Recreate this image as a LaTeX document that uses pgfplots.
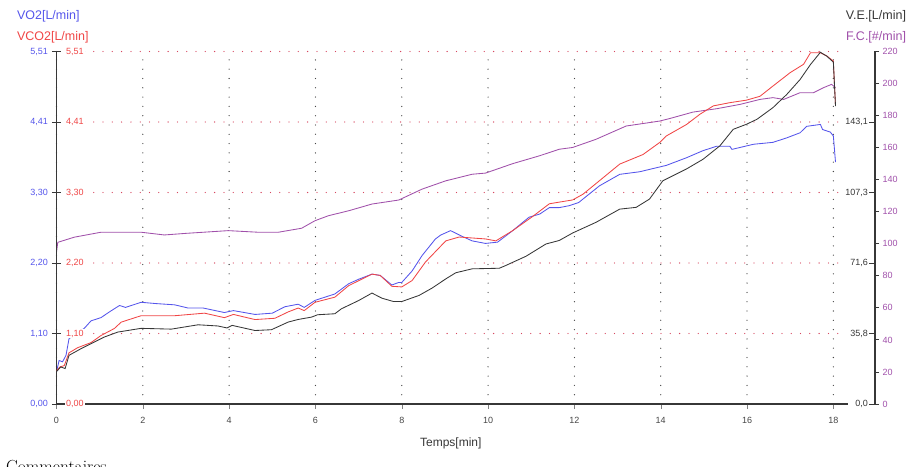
\documentclass[border=0pt]{standalone}
\usepackage{fontspec}
\setsansfont{Liberation Sans}
\usepackage{pgfplots}
\pgfplotsset{compat=1.18}

\definecolor{vo2}{RGB}{85,85,235}
\definecolor{vco2}{RGB}{240,70,70}
\definecolor{ve}{RGB}{55,55,55}
\definecolor{fc}{RGB}{160,80,170}
\definecolor{gridred}{RGB}{215,70,95}
\definecolor{gridblk}{RGB}{70,70,70}

\pgfplotsset{
  base/.style={
    scale only axis, width=788.5pt, height=352.5pt,
    at={(0pt,0pt)}, anchor=south west,
    xmin=0, xmax=18.27, ymin=0,
  },
  tickfont/.style={font=\sffamily\fontsize{9}{10}\selectfont},
  /pgf/number format/assume math mode=true,
}

\begin{document}
\begin{tikzpicture}
% VO2 axis with grid, time axis
\begin{axis}[base, ymax=5.51,
  axis x line*=bottom, axis y line*=left,
  axis line style={draw=ve, line width=1.1pt},
  xtick={0,2,...,18}, xtick align=outside, major tick length=5pt,
  xticklabel style={tickfont, text=gridblk, yshift=-5pt},
  xmajorgrids, ymajorgrids,
  x grid style={draw=gridblk, line width=1.3pt, line cap=round, dash pattern=on 0pt off 9.3pt},
  y grid style={draw=gridred, line width=1.3pt, line cap=round, dash pattern=on 0pt off 9.3pt},
  ytick={0,1.102,2.204,3.306,4.408,5.51},
  yticklabels={{0,00},{1,10},{2,20},{3,30},{4,41},{5,51}},
  ytick style={draw=none},
  yticklabel style={tickfont, text=vo2, xshift=-5pt},
  xlabel={Temps[min]},
  xlabel style={font=\sffamily\fontsize{12}{14}\selectfont, text=ve, yshift=-7pt},
]
\addplot[vo2, line width=0.85pt] coordinates {
(0,0.50) (0.06,0.68) (0.14,0.66) (0.22,0.76) (0.29,1.02) (0.45,1.10)
(0.64,1.18) (0.80,1.30) (1.03,1.35) (1.25,1.45) (1.46,1.54) (1.60,1.51)
(1.96,1.59) (2.30,1.57) (2.74,1.55) (3.05,1.50) (3.40,1.50) (3.89,1.43)
(4.10,1.46) (4.60,1.40) (5.00,1.42) (5.29,1.52) (5.60,1.56) (5.74,1.51)
(5.99,1.62) (6.45,1.72) (6.77,1.88) (7.00,1.95) (7.31,2.03) (7.50,2.01)
(7.77,1.86) (7.93,1.90) (8.00,1.90) (8.24,2.08) (8.47,2.32) (8.78,2.58)
(8.90,2.64) (9.13,2.71) (9.40,2.62) (9.63,2.55) (9.94,2.51) (10.22,2.53)
(10.57,2.71) (10.95,2.92) (11.20,2.97) (11.42,3.07) (11.65,3.07) (11.88,3.10)
(12.10,3.15) (12.58,3.41) (13.05,3.59) (13.51,3.63) (14.13,3.73) (14.60,3.85)
(14.98,3.96) (15.30,4.03) (15.60,4.03) (15.65,3.98) (16.15,4.06) (16.60,4.09)
(16.92,4.16) (17.23,4.24) (17.38,4.34) (17.70,4.37) (17.75,4.29) (17.93,4.25)
(18.00,4.19) (18.05,3.78)
};
\end{axis}

% frame lines of the left and bottom axes
\draw[ve, line width=1.1pt] (0pt,352.5pt) -- (0pt,0pt) -- (791.5pt,0pt);

% F.C. data
\begin{axis}[base, ymax=220, hide axis]
\addplot[fc, line width=0.85pt] coordinates {
(0,94.7) (0.03,100.9) (0.41,104.1) (1.03,107.2) (1.96,107.2) (2.50,105.5)
(3.00,106.5) (3.98,108.2) (4.67,107.2) (5.14,107.2) (5.68,109.7) (5.99,114.4)
(6.30,117.5) (6.77,120.6) (7.31,124.8) (7.93,127.3) (8.47,134.1) (9.02,139.3)
(9.63,143.4) (9.94,144.1) (10.57,150.0) (11.19,154.9) (11.65,159.0) (11.96,160.1)
(12.50,165.2) (13.20,173.5) (13.98,176.6) (14.20,178.1) (14.75,182.2) (15.30,184.3)
(15.84,187.0) (16.30,190.1) (16.60,191.2) (16.85,190.1) (17.23,194.3) (17.54,194.3)
(17.77,197.4) (17.96,199.5) (18.05,197.4)
};
\end{axis}

% VCO2 axis, red labels inside
\begin{axis}[base, ymax=5.51,
  hide x axis, axis y line*=left,
  axis line style={draw=ve, line width=1.1pt},
  ytick={0,1.102,2.204,3.306,4.408,5.51},
  yticklabels={{0,00},{1,10},{2,20},{3,30},{4,41},{5,51}},
  ytick align=center, major tick length=9pt,
  ytick style={draw=ve, line width=0.9pt},
  yticklabel style={tickfont, text=vco2, anchor=west, xshift=13pt, fill=white, inner sep=1pt},
]
\addplot[vco2, line width=0.85pt] coordinates {
(0,0.52) (0.08,0.58) (0.18,0.60) (0.29,0.80) (0.49,0.88) (0.80,0.96)
(1.03,1.07) (1.34,1.18) (1.50,1.28) (1.96,1.38) (2.74,1.38) (3.43,1.42)
(3.89,1.35) (4.10,1.40) (4.60,1.32) (5.06,1.34) (5.37,1.44) (5.60,1.50)
(5.74,1.46) (5.99,1.59) (6.45,1.67) (6.77,1.85) (7.31,2.03) (7.50,2.01)
(7.77,1.84) (8.00,1.83) (8.24,1.93) (8.55,2.22) (9.02,2.55) (9.33,2.61)
(9.94,2.58) (10.18,2.55) (10.57,2.71) (11.03,2.93) (11.42,3.13) (11.96,3.19)
(12.20,3.28) (12.58,3.49) (13.05,3.75) (13.59,3.90) (13.98,4.09) (14.13,4.19)
(14.60,4.37) (14.91,4.53) (15.22,4.66) (15.60,4.71) (15.99,4.75) (16.30,4.81)
(16.60,4.97) (17.00,5.18) (17.31,5.31) (17.47,5.49) (17.70,5.49) (17.85,5.44)
(18.00,5.36) (18.05,4.66)
};
\end{axis}

% V.E. data
\begin{axis}[base, ymax=178.9, hide axis]
\addplot[ve, line width=0.85pt] coordinates {
(0,16.5) (0.10,18.8) (0.20,18.0) (0.29,24.7) (0.57,28.1) (0.88,31.5)
(1.11,34.0) (1.42,36.5) (1.96,38.4) (2.66,38.0) (3.28,40.2) (3.74,39.6)
(3.95,38.6) (4.07,39.9) (4.60,37.3) (4.98,37.7) (5.37,41.6) (5.60,42.9)
(5.91,44.1) (6.05,45.3) (6.45,45.8) (6.60,48.3) (7.00,52.5) (7.31,56.3)
(7.54,53.7) (7.81,52.0) (8.00,52.0) (8.40,55.1) (8.70,58.8) (9.02,63.5)
(9.25,66.6) (9.63,68.6) (10.26,68.9) (10.40,70.2) (10.88,75.0) (11.34,81.2)
(11.65,83.0) (11.96,86.8) (12.50,92.2) (13.05,98.9) (13.43,99.8) (13.74,104.0)
(14.05,113.3) (14.59,119.2) (14.98,124.2) (15.37,131.0) (15.68,139.4) (15.99,142.0)
(16.23,144.5) (16.60,150.4) (16.92,157.1) (17.23,164.7) (17.47,172.3) (17.70,178.5)
(17.85,176.5) (18.00,173.5) (18.05,151.2)
};
\end{axis}

% right scale: V.E. ticks on its left side
\begin{axis}[scale only axis, width=30pt, height=352.5pt,
  at={(818.5pt,0pt)}, anchor=south west,
  xmin=0, xmax=1, ymin=0, ymax=178.9,
  hide x axis, axis y line*=left,
  axis line style={draw=ve, line width=1.1pt},
  ytick={0,35.78,71.56,107.34,143.12},
  yticklabels={{0,0},{35,8},{71,6},{107,3},{143,1}},
  ytick align=outside, major tick length=6pt,
  ytick style={draw=ve, line width=0.9pt},
  yticklabel style={tickfont, text=ve, fill=white, inner sep=1pt},
]
\end{axis}

% right scale: F.C. ticks on its right side
\begin{axis}[scale only axis, width=30pt, height=352.5pt,
  at={(818.5pt,0pt)}, anchor=south east,
  xmin=0, xmax=1, ymin=0, ymax=220,
  hide x axis, axis y line*=right,
  axis line style={draw=ve, line width=1.1pt},
  ytick={0,20,...,220},
  ytick align=outside, major tick length=4pt,
  ytick style={draw=ve, line width=0.9pt},
  yticklabel style={tickfont, text=fc},
]
\end{axis}

\node[anchor=west, text=vo2, font=\sffamily\fontsize{12.5}{14}\selectfont] at (-43pt,388pt) {VO2[L/min]};
\node[anchor=west, text=vco2, font=\sffamily\fontsize{12.5}{14}\selectfont] at (-43pt,367pt) {VCO2[L/min]};
\node[anchor=east, text=ve, font=\sffamily\fontsize{12.5}{14}\selectfont] at (853pt,388pt) {V.E.[L/min]};
\node[anchor=east, text=fc, font=\sffamily\fontsize{12.5}{14}\selectfont] at (853pt,367pt) {F.C.[\#/min]};
\node[anchor=base west, inner sep=0pt, font=\rmfamily\fontsize{17.5}{20}\selectfont] at (-50.5pt,-68.7pt) {Commentaires};

\pgfresetboundingbox
\path[use as bounding box] (-56.5pt,-62pt) rectangle (866.5pt,404pt);
\end{tikzpicture}
\end{document}
